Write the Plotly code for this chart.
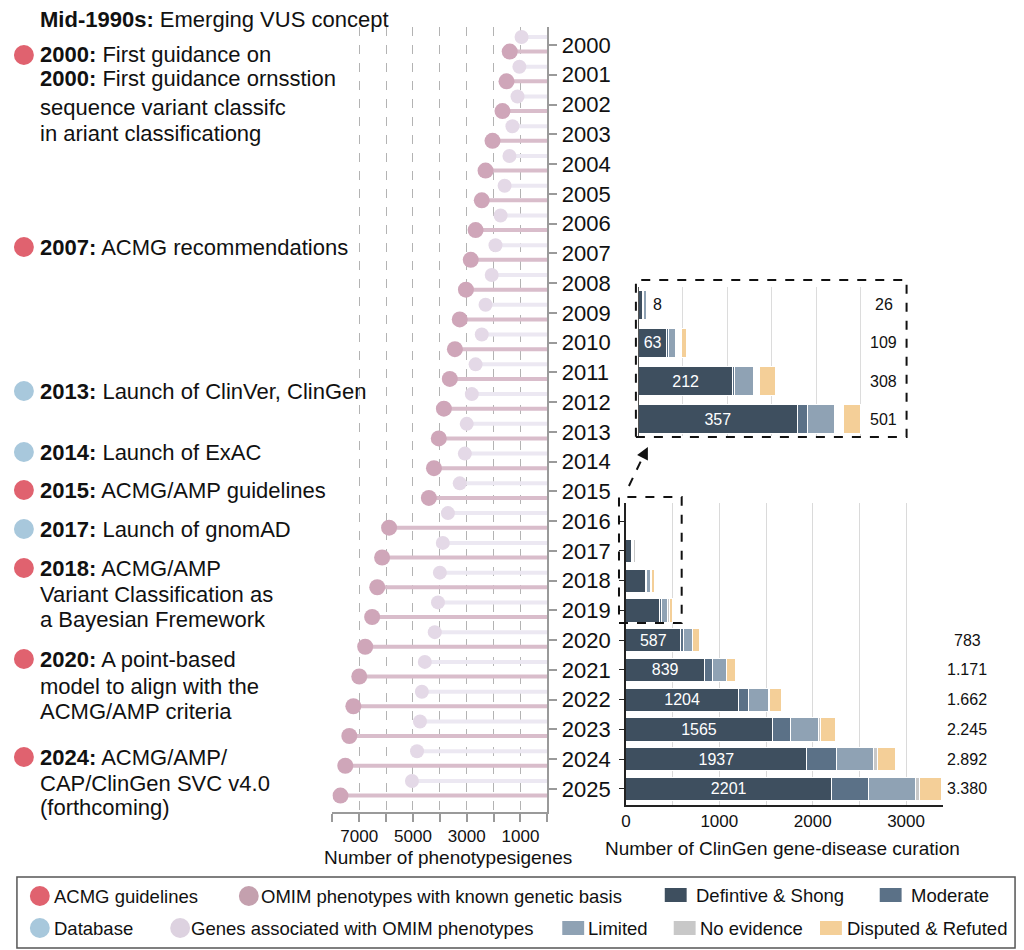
import plotly.graph_objects as go

# ---- left panel: OMIM counts per year ----
years = list(range(2000, 2026))
omim_phenotypes = [1400, 1520, 1670, 2040, 2300, 2440, 2670, 2850, 3030, 3260,
                   3440, 3630, 3850, 4040, 4220, 4410, 5890, 6150, 6330, 6520,
                   6780, 7000, 7220, 7370, 7520, 7700]
omim_genes = [960, 1040, 1110, 1300, 1410, 1590, 1740, 1930, 2070, 2300,
              2440, 2670, 2810, 3000, 3070, 3260, 3700, 3890, 4000, 4070,
              4190, 4560, 4670, 4740, 4850, 5040]
pheno_ticks = [1000, 2000, 3000, 4000, 5000, 6000, 7000]
pheno_ticktext = ["1000", "", "3000", "", "5000", "", "7000"]

# ---- right panel: ClinGen gene-disease curations ----
curation_years = [2016, 2017, 2018, 2019, 2020, 2021, 2022, 2023, 2024, 2025]
definitive_strong = [8, 63, 212, 357, 587, 839, 1204, 1565, 1937, 2201]
moderate = [4, 4, 5, 23, 25, 90, 106, 200, 320, 401]
limited = [6, 17, 43, 61, 96, 146, 222, 300, 398, 496]
no_evidence = [8, 13, 13, 21, 8, 6, 5, 18, 35, 43]
disputed_refuted = [0, 12, 35, 39, 67, 90, 125, 162, 202, 239]
total_labels = ["26", "109", "308", "501", "783", "1.171", "1.662", "2.245", "2.892", "3.380"]
curation_ticks = [0, 500, 1000, 1500, 2000, 2500, 3000]
curation_ticktext = ["0", "", "1000", "", "2000", "", "3000"]

# ---- timeline text on the far left ----
milestone_lines = [
    "<b>Mid-1990s:</b> Emerging VUS concept",
    "<b>2000:</b> First guidance on",
    "<b>2000:</b> First guidance ornsstion",
    "sequence variant classifc",
    "in ariant classificationg",
    "<b>2007:</b> ACMG recommendations",
    "<b>2013:</b> Launch of ClinVer, ClinGen",
    "<b>2014:</b> Launch of ExAC",
    "<b>2015:</b> ACMG/AMP guidelines",
    "<b>2017:</b> Launch of gnomAD",
    "<b>2018:</b> ACMG/AMP",
    "Variant Classification as",
    "a Bayesian Fremework",
    "<b>2020:</b> A point-based",
    "model to align with the",
    "ACMG/AMP criteria",
    "<b>2024:</b> ACMG/AMP/",
    "CAP/ClinGen SVC v4.0",
    "(forthcoming)",
]
milestone_kind = [None, "acmg", None, None, None, "acmg", "db", "db", "acmg", "db",
                  "acmg", None, None, "acmg", None, None, "acmg", None, None]

legend_labels = ["ACMG guidelines", "OMIM phenotypes with known genetic basis",
                 "Defintive & Shong", "Moderate",
                 "Database", "Genes associated with OMIM phenotypes",
                 "Limited", "No evidence", "Disputed & Refuted"]

FONT = "Liberation Sans, Arial, sans-serif"
W, H = 1024, 950
ACMG_RED = "#e0626f"
DB_BLUE = "#a8c8dc"
PHENO_DOT = "#cfa6b9"
PHENO_STEM = "#d9bdcb"
GENE_DOT = "#e4d9e7"
GENE_STEM = "#ece8f2"
SEG_COLORS = ["#3e4f5f", "#5b7187", "#8fa2b4", "#c8c8c8", "#f4cf98"]


def px(x):
    return x / W


def py(y):
    return 1 - y / H


def stems(vals, ys):
    xs, yy = [], []
    for v, y in zip(vals, ys):
        xs += [v, 0, None]
        yy += [y, y, None]
    return xs, yy


def label(x, y, text, size, anchor="left", **kw):
    d = dict(x=x, y=y, xref="paper", yref="paper", text=text, xanchor=anchor,
             yanchor="middle", showarrow=False, font=dict(size=size, color="#111"))
    d.update(kw)
    return d


fig = go.Figure()

# lollipops: genes slightly above the year tick, phenotypes slightly below
gene_y = [yr - 0.27 for yr in years]
pheno_y = [yr + 0.22 for yr in years]
for vals, ys, stem_col, dot_col, size in [(omim_genes, gene_y, GENE_STEM, GENE_DOT, 14),
                                          (omim_phenotypes, pheno_y, PHENO_STEM, PHENO_DOT, 16)]:
    sx, sy = stems(vals, ys)
    fig.add_trace(go.Scatter(x=sx, y=sy, mode="lines", line=dict(color=stem_col, width=4),
                             xaxis="x", yaxis="y", hoverinfo="skip"))
    fig.add_trace(go.Scatter(x=vals, y=ys, mode="markers",
                             marker=dict(color=dot_col, size=size), xaxis="x", yaxis="y"))

# stacked bars, main panel and zoomed inset (2016-2019)
segments = [definitive_strong, moderate, limited, no_evidence, disputed_refuted]
seg_names = legend_labels[2:4] + legend_labels[6:]
n_inset = 4
for i, (vals, name, col) in enumerate(zip(segments, seg_names, SEG_COLORS)):
    main_text = None
    inset_text = None
    if i == 0:
        main_text = [str(v) if yr >= 2020 else "" for v, yr in zip(vals, curation_years)]
        inset_text = [str(v) if v >= 50 else "" for v in vals[:n_inset]]
    fig.add_trace(go.Bar(
        y=curation_years, x=vals, orientation="h", width=0.78, name=name,
        marker=dict(color=col, line=dict(color="white", width=1)),
        text=main_text, textposition="inside", insidetextanchor="middle",
        textfont=dict(color="white", size=16), xaxis="x2", yaxis="y2"))
    fig.add_trace(go.Bar(
        y=curation_years[:n_inset], x=vals[:n_inset], orientation="h", width=0.78,
        marker=dict(color="white" if name == "No evidence" else col,
                    line=dict(color="white", width=1)),
        text=inset_text, textposition="inside", insidetextanchor="middle",
        textfont=dict(color="white", size=16), xaxis="x3", yaxis="y3"))

annotations = []
shapes = []

# totals
for yr, lab in zip(curation_years, total_labels):
    if yr >= 2020:
        annotations.append(dict(x=px(967), xref="paper", y=yr, yref="y2", text=lab,
                                xanchor="center", yanchor="middle", showarrow=False,
                                font=dict(size=16, color="#111")))
    else:
        annotations.append(dict(x=px(883), xref="paper", y=yr, yref="y3", text=lab,
                                xanchor="center", yanchor="middle", showarrow=False,
                                font=dict(size=16, color="#111")))
totals_2016 = sum(s[0] for s in segments)
annotations.append(dict(x=totals_2016, xref="x3", y=curation_years[0], yref="y3",
                        text=str(definitive_strong[0]), xanchor="left", yanchor="middle",
                        xshift=1, showarrow=False, font=dict(size=16, color="#111")))

# axis titles
annotations.append(label(px(445), py(857), "Number of phenotypesigenes", 19, "center"))
annotations.append(label(px(781), py(848), "Number of ClinGen gene-disease curation", 19, "center"))

# milestone text + dots
line_y = [20, 55, 79, 107, 133, 247, 391, 452, 490, 529,
          568, 594, 619, 659, 686, 711, 757, 783, 807]
for txt, kind, yy in zip(milestone_lines, milestone_kind, line_y):
    annotations.append(label(px(33), py(yy), txt, 22))
    if kind:
        col = ACMG_RED if kind == "acmg" else DB_BLUE
        shapes.append(dict(type="circle", xref="paper", yref="paper",
                           x0=px(9), x1=px(29), y0=py(yy + 10), y1=py(yy - 10),
                           fillcolor=col, line=dict(width=0)))

# dashed zoom boxes and arrow
shapes.append(dict(type="rect", xref="paper", yref="paper", x0=px(617), x1=px(680),
                   y0=py(623), y1=py(497), line=dict(color="#111", width=2, dash="dash")))
shapes.append(dict(type="rect", xref="paper", yref="paper", x0=px(634), x1=px(906),
                   y0=py(437), y1=py(280), line=dict(color="#111", width=2, dash="dash")))
shapes.append(dict(type="line", xref="paper", yref="paper", x0=px(627), y0=py(486),
                   x1=px(641), y1=py(457), line=dict(color="#111", width=2, dash="dash")))
annotations.append(dict(x=px(646), y=py(447), xref="paper", yref="paper", ax=-5, ay=10,
                        text="", showarrow=True, arrowhead=2, arrowsize=1.2,
                        arrowwidth=2, arrowcolor="#111"))

# legend box (drawn by hand to keep the two-row arrangement)
shapes.append(dict(type="rect", xref="paper", yref="paper", x0=px(12), x1=px(1015),
                   y0=py(948), y1=py(877), line=dict(color="#555", width=1.5)))
legend_marks = [("circle", ACMG_RED), ("circle", "#c4a0ae"), ("square", SEG_COLORS[0]),
                ("square", SEG_COLORS[1]), ("circle", DB_BLUE), ("circle", "#ddd2e0"),
                ("square", SEG_COLORS[2]), ("square", SEG_COLORS[3]), ("square", SEG_COLORS[4])]
legend_pos = [(35, 47, 896), (245, 255, 896), (674, 692, 895), (890, 908, 895),
              (35, 47, 928), (176, 185, 928), (571, 584, 928), (683, 696, 928), (830, 844, 928)]
for lab, (kind, col), (mx, tx, yy) in zip(legend_labels, legend_marks, legend_pos):
    if kind == "circle":
        shapes.append(dict(type="circle", xref="paper", yref="paper", x0=px(mx - 10),
                           x1=px(mx + 10), y0=py(yy + 10), y1=py(yy - 10),
                           fillcolor=col, line=dict(width=0)))
    else:
        shapes.append(dict(type="rect", xref="paper", yref="paper", x0=px(mx - 11),
                           x1=px(mx + 11), y0=py(yy + 7), y1=py(yy - 7),
                           fillcolor=col, line=dict(width=0)))
    annotations.append(label(px(tx), py(yy), lab, 18.5))

axis_gray = "#9a9a9a"
fig.update_layout(
    width=W, height=H,
    margin=dict(l=0, r=0, t=0, b=0),
    paper_bgcolor="white", plot_bgcolor="white",
    showlegend=False, barmode="stack",
    font=dict(family=FONT, color="#111"),
    xaxis=dict(domain=[px(329), px(545)], range=[8000, 0], anchor="y",
               tickmode="array", tickvals=pheno_ticks, ticktext=pheno_ticktext,
               showgrid=True, gridcolor="#b3b3b3", griddash="dash", gridwidth=1,
               ticks="outside", ticklen=8, tickwidth=1.5, tickcolor=axis_gray,
               showline=True, linecolor=axis_gray, linewidth=2, zeroline=False,
               minor=dict(dtick=1000, tick0=0, ticks="outside", ticklen=8, tickwidth=1.5,
                          tickcolor=axis_gray, showgrid=False),
               tickfont=dict(size=17, color="#111")),
    yaxis=dict(domain=[py(812), py(27)], range=[2025.773, 1999.395], anchor="x",
               side="right", tickmode="array", tickvals=years,
               showgrid=False, zeroline=False, showline=True, linecolor=axis_gray,
               linewidth=2, ticks="outside", ticklen=8, tickwidth=1.5, tickcolor=axis_gray,
               tickfont=dict(size=22, color="#111"), ticklabelstandoff=0),
    xaxis2=dict(domain=[px(624), px(943)], range=[0, 3400], anchor="y2",
                tickmode="array", tickvals=curation_ticks, ticktext=curation_ticktext,
                showgrid=True, gridcolor="#dadada", gridwidth=1, zeroline=False,
                showline=True, linecolor="#222", linewidth=1.5, ticks="",
                tickfont=dict(size=17, color="#111")),
    yaxis2=dict(domain=[py(805), py(503)], range=[2025.538, 2015.39], anchor="x2",
                tickmode="array", tickvals=curation_years, showticklabels=False,
                ticks="outside", ticklen=5, tickcolor="#222", showline=True,
                linecolor="#222", linewidth=1.5, showgrid=False, zeroline=False),
    xaxis3=dict(domain=[px(636.7), px(877.5)], range=[0, 540], anchor="y3",
                tick0=0, dtick=100, showticklabels=False, showgrid=True,
                gridcolor="#dcdcdc", zeroline=False, showline=False, ticks=""),
    yaxis3=dict(domain=[py(436), py(287)], range=[2019.446, 2015.528], anchor="x3",
                tickmode="array", tickvals=curation_years[:n_inset], showticklabels=False,
                ticks="", showline=True, linecolor="#555", linewidth=1.2,
                showgrid=False, zeroline=False),
    annotations=annotations,
    shapes=shapes,
)

# the page body has a default 8px margin; drop it so the figure fills the window
fig.write_html("out.html", config={"displayModeBar": False},
               post_script="document.body.style.margin='0';")
